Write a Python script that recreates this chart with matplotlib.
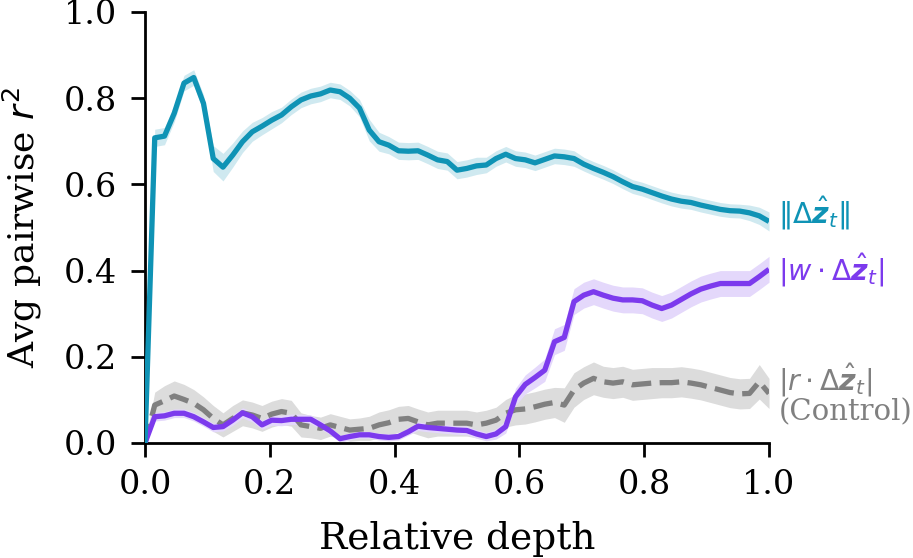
import numpy as np
import matplotlib
matplotlib.use('Agg')
import matplotlib.pyplot as plt

# ----- DATA -------------------------------------------------------------------------
n_layers = 64
depth = np.arange(n_layers + 1) / n_layers

norm_mean = [0.0, 0.708, 0.712, 0.765, 0.835, 0.848, 0.788, 0.660, 0.640, 0.668,
             0.699, 0.722, 0.735, 0.749, 0.761, 0.780, 0.796, 0.805, 0.810, 0.819,
             0.815, 0.800, 0.777, 0.726, 0.699, 0.691, 0.678, 0.677, 0.678, 0.668,
             0.657, 0.653, 0.633, 0.637, 0.643, 0.645, 0.660, 0.670, 0.660, 0.657,
             0.650, 0.658, 0.666, 0.664, 0.660, 0.647, 0.637, 0.628, 0.618, 0.606,
             0.595, 0.589, 0.581, 0.573, 0.566, 0.561, 0.558, 0.552, 0.547, 0.542,
             0.539, 0.538, 0.534, 0.527, 0.514]
norm_err = [0.0, 0.020, 0.020, 0.020, 0.018, 0.018, 0.020, 0.030, 0.032, 0.028,
            0.025, 0.022, 0.020, 0.020, 0.018, 0.018, 0.018, 0.018, 0.018, 0.018,
            0.018, 0.018, 0.020, 0.025, 0.022, 0.020, 0.020, 0.020, 0.020, 0.020,
            0.020, 0.020, 0.020, 0.020, 0.020, 0.018, 0.018, 0.018, 0.018, 0.018,
            0.018, 0.018, 0.018, 0.018, 0.018, 0.016, 0.016, 0.016, 0.016, 0.016,
            0.016, 0.016, 0.016, 0.016, 0.016, 0.016, 0.016, 0.016, 0.016, 0.016,
            0.016, 0.016, 0.018, 0.020, 0.022]

proj_mean = [0.0, 0.061, 0.063, 0.069, 0.069, 0.061, 0.049, 0.036, 0.038, 0.053,
             0.070, 0.061, 0.042, 0.053, 0.052, 0.055, 0.055, 0.055, 0.042, 0.028,
             0.010, 0.015, 0.019, 0.019, 0.015, 0.013, 0.015, 0.026, 0.039, 0.036,
             0.034, 0.032, 0.030, 0.029, 0.021, 0.015, 0.021, 0.038, 0.107, 0.136,
             0.152, 0.169, 0.235, 0.245, 0.328, 0.343, 0.351, 0.343, 0.336, 0.332,
             0.332, 0.330, 0.320, 0.312, 0.320, 0.333, 0.346, 0.357, 0.364, 0.370,
             0.370, 0.370, 0.370, 0.386, 0.403]
proj_err = [0.0, 0.010, 0.010, 0.010, 0.010, 0.010, 0.010, 0.010, 0.010, 0.012,
            0.012, 0.012, 0.010, 0.012, 0.012, 0.012, 0.012, 0.010, 0.010, 0.008,
            0.008, 0.008, 0.008, 0.008, 0.008, 0.008, 0.008, 0.008, 0.010, 0.010,
            0.010, 0.010, 0.010, 0.010, 0.010, 0.010, 0.012, 0.015, 0.020, 0.022,
            0.024, 0.026, 0.030, 0.030, 0.030, 0.030, 0.030, 0.030, 0.030, 0.030,
            0.030, 0.030, 0.030, 0.030, 0.030, 0.030, 0.030, 0.030, 0.030, 0.030,
            0.030, 0.030, 0.030, 0.030, 0.030]

ctrl_mean = [0.0, 0.088, 0.098, 0.109, 0.101, 0.092, 0.077, 0.057, 0.042, 0.057,
             0.070, 0.065, 0.057, 0.067, 0.073, 0.069, 0.042, 0.038, 0.034, 0.042,
             0.036, 0.030, 0.032, 0.034, 0.042, 0.047, 0.055, 0.057, 0.049, 0.042,
             0.046, 0.046, 0.046, 0.046, 0.042, 0.046, 0.053, 0.069, 0.077, 0.079,
             0.084, 0.090, 0.094, 0.088, 0.123, 0.139, 0.150, 0.142, 0.139, 0.142,
             0.135, 0.137, 0.139, 0.140, 0.140, 0.142, 0.139, 0.135, 0.129, 0.123,
             0.117, 0.114, 0.115, 0.142, 0.115]
ctrl_err = [0.0, 0.030, 0.035, 0.035, 0.035, 0.032, 0.030, 0.030, 0.028, 0.030,
            0.030, 0.030, 0.030, 0.030, 0.030, 0.030, 0.028, 0.026, 0.026, 0.026,
            0.026, 0.026, 0.026, 0.028, 0.030, 0.030, 0.030, 0.030, 0.030, 0.030,
            0.030, 0.030, 0.030, 0.030, 0.030, 0.030, 0.030, 0.032, 0.035, 0.035,
            0.035, 0.035, 0.035, 0.040, 0.040, 0.038, 0.038, 0.036, 0.036, 0.036,
            0.036, 0.036, 0.036, 0.035, 0.035, 0.035, 0.035, 0.035, 0.035, 0.035,
            0.035, 0.035, 0.035, 0.040, 0.035]

labels = [r'$\|\Delta\hat{\boldsymbol{z}}_t\|$',
          r'$|w\cdot\Delta\hat{\boldsymbol{z}}_t|$',
          r'$|r\cdot\Delta\hat{\boldsymbol{z}}_t|$']

# ----- PLOTTING ---------------------------------------------------------------------
plt.rcParams['font.family'] = ['DejaVu Serif']
plt.rcParams['mathtext.fontset'] = 'dejavusans'
plt.rcParams['font.size'] = 24

cyan = '#0f93b5'
purple = '#7c3aed'
grey = '#808080'

fig = plt.figure(figsize=(9.13, 5.58), dpi=100)
ax = fig.add_axes([0.1588, 0.2061, 0.6835, 0.7724])

series = [(norm_mean, norm_err, cyan, '#cfe9f0', '-'),
          (proj_mean, proj_err, purple, '#e4d8fb', '-'),
          (ctrl_mean, ctrl_err, grey, '#dcdcdc', (0, (3.7, 1.6)))]

for m, e, c, fc, ls in series[::-1]:
    m = np.array(m)
    e = np.array(e)
    ax.fill_between(depth, m - e, m + e, color=fc, lw=0, zorder=1)
for m, e, c, fc, ls in series[::-1]:
    ax.plot(depth, m, color=c, lw=3.8, ls=ls, zorder=3, solid_capstyle='butt')

ax.text(1.015, 0.532, labels[0], color=cyan, fontsize=20.5, va='center')
ax.text(1.015, 0.401, labels[1], color=purple, fontsize=20.5, va='center')
ax.text(1.015, 0.146, labels[2], color=grey, fontsize=20.5, va='center')
ax.text(1.015, 0.070, '(Control)', color=grey, fontsize=21, va='center')

ax.set_xlim(0, 1)
ax.set_ylim(0, 1)
ax.set_xticks([0, 0.2, 0.4, 0.6, 0.8, 1.0])
ax.set_yticks([0, 0.2, 0.4, 0.6, 0.8, 1.0])
ax.set_xlabel('Relative depth', fontsize=27, labelpad=14)
ax.set_ylabel(r'Avg pairwise $r^2$', fontsize=26, labelpad=14)
for s in ['top', 'right']:
    ax.spines[s].set_visible(False)
for s in ['left', 'bottom']:
    ax.spines[s].set_linewidth(2)
ax.tick_params(width=2, length=10)
ax.tick_params(axis='y', pad=10)
ax.tick_params(axis='x', pad=9)

fig.savefig('out.png', dpi=100)
